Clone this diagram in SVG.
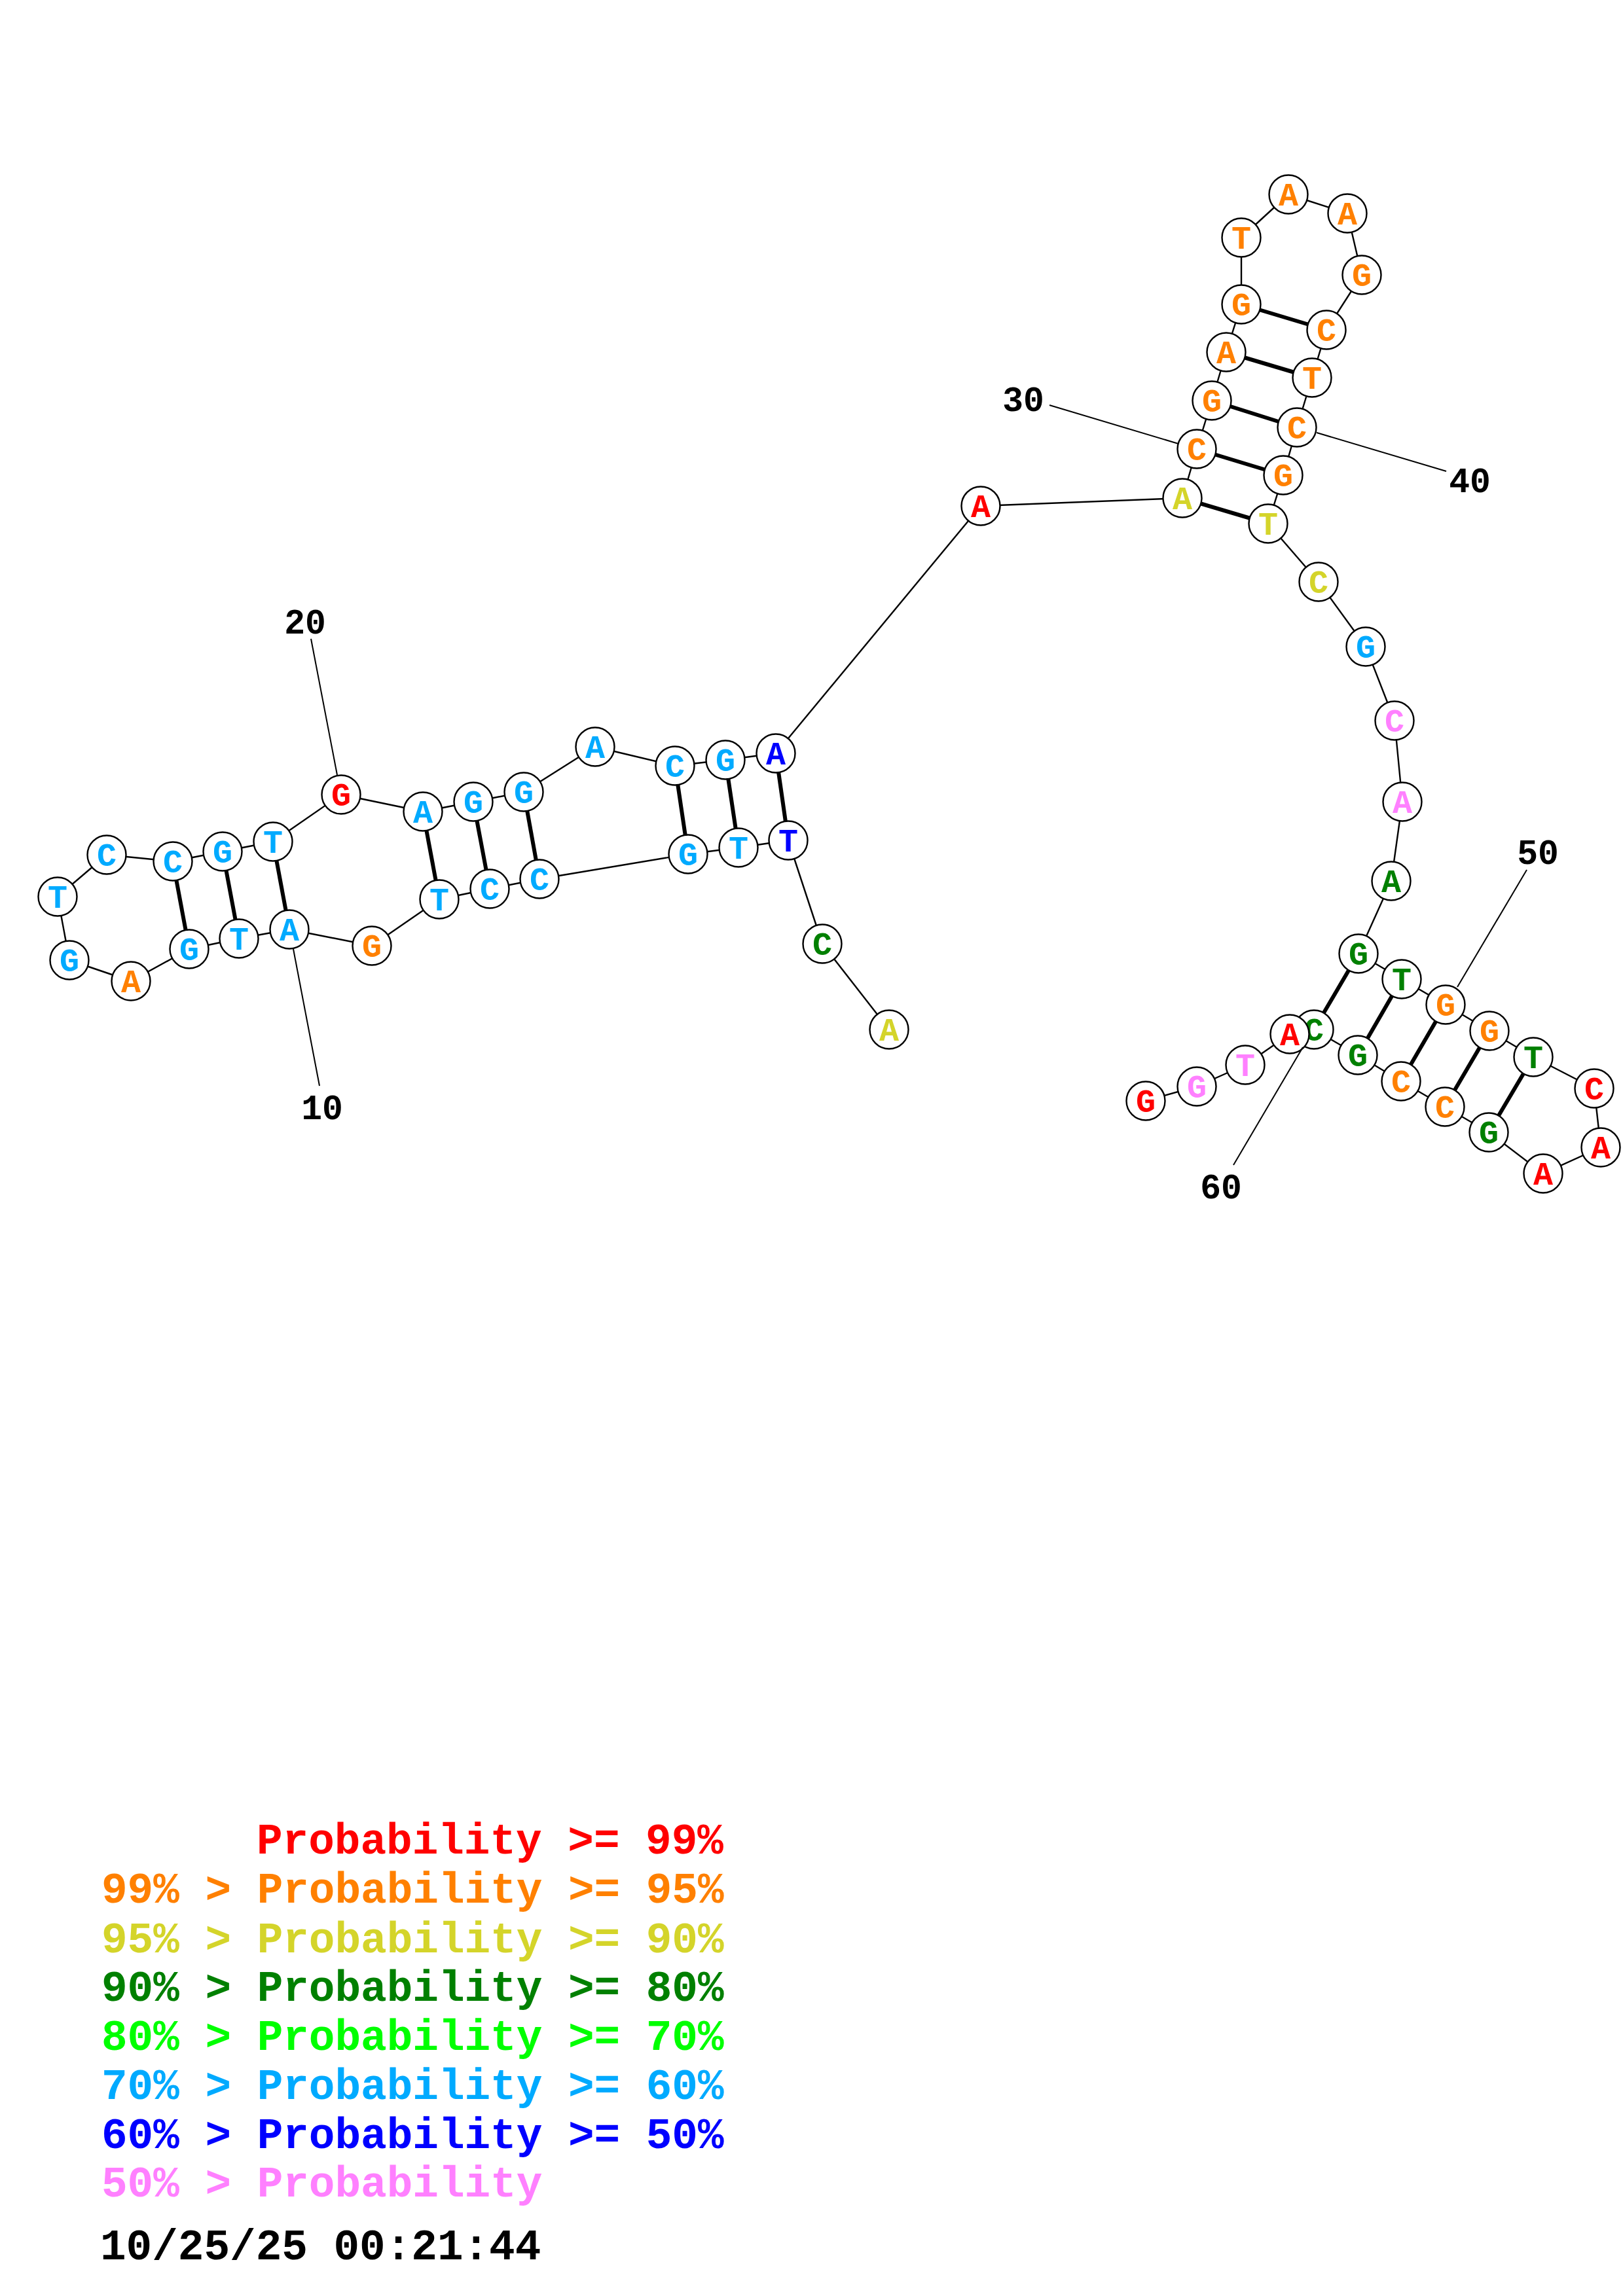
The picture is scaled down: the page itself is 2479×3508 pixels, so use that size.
<svg xmlns="http://www.w3.org/2000/svg" width="2479" height="3508" viewBox="0 0 2479 3508">
<style>
.bb{stroke:#000;stroke-width:2.4;fill:none}
.pr{stroke:#000;stroke-width:6;fill:none}
.lb{stroke:#000;stroke-width:2;fill:none}
.node circle{fill:#fff;stroke:#000;stroke-width:2.4}
.node text{font-family:"Liberation Mono","DejaVu Sans Mono",monospace;font-weight:bold;font-size:50px;text-anchor:middle}
.num{font-family:"Liberation Mono","DejaVu Sans Mono",monospace;font-weight:bold;font-size:53px;text-anchor:middle;fill:#000}
.leg{font-family:"Liberation Mono","DejaVu Sans Mono",monospace;font-weight:bold;font-size:66px}
.r{fill:#FF0000}.o{fill:#FF8000}.y{fill:#D4D42A}.dg{fill:#008000}.g{fill:#00FF00}.lbl{fill:#00AAFF}.b{fill:#0000FF}.p{fill:#FF80FF}.k{fill:#000}
</style>
<rect width="2479" height="3508" fill="#fff"/>
<g id="connectors">
<line class="bb" x1="1358" y1="1573" x2="1256" y2="1442"/>
<line class="bb" x1="1256" y1="1442" x2="1204" y2="1284"/>
<line class="bb" x1="1204" y1="1284" x2="1128" y2="1295"/>
<line class="bb" x1="1128" y1="1295" x2="1051" y2="1305"/>
<line class="bb" x1="1051" y1="1305" x2="824" y2="1343"/>
<line class="bb" x1="824" y1="1343" x2="748" y2="1358"/>
<line class="bb" x1="748" y1="1358" x2="671" y2="1374"/>
<line class="bb" x1="671" y1="1374" x2="568" y2="1445"/>
<line class="bb" x1="568" y1="1445" x2="442" y2="1420"/>
<line class="bb" x1="442" y1="1420" x2="365" y2="1434"/>
<line class="bb" x1="365" y1="1434" x2="289" y2="1450"/>
<line class="bb" x1="289" y1="1450" x2="200" y2="1499"/>
<line class="bb" x1="200" y1="1499" x2="106" y2="1467"/>
<line class="bb" x1="106" y1="1467" x2="88" y2="1370"/>
<line class="bb" x1="88" y1="1370" x2="163" y2="1306"/>
<line class="bb" x1="163" y1="1306" x2="264" y2="1316"/>
<line class="bb" x1="264" y1="1316" x2="340" y2="1301"/>
<line class="bb" x1="340" y1="1301" x2="417" y2="1286"/>
<line class="bb" x1="417" y1="1286" x2="521" y2="1214"/>
<line class="bb" x1="521" y1="1214" x2="646" y2="1240"/>
<line class="bb" x1="646" y1="1240" x2="723" y2="1225"/>
<line class="bb" x1="723" y1="1225" x2="800" y2="1210"/>
<line class="bb" x1="800" y1="1210" x2="909" y2="1141"/>
<line class="bb" x1="909" y1="1141" x2="1031" y2="1170"/>
<line class="bb" x1="1031" y1="1170" x2="1108" y2="1161"/>
<line class="bb" x1="1108" y1="1161" x2="1185" y2="1151"/>
<line class="bb" x1="1185" y1="1151" x2="1498" y2="773"/>
<line class="bb" x1="1498" y1="773" x2="1806" y2="761"/>
<line class="bb" x1="1806" y1="761" x2="1828" y2="686"/>
<line class="bb" x1="1828" y1="686" x2="1851" y2="612"/>
<line class="bb" x1="1851" y1="612" x2="1873" y2="538"/>
<line class="bb" x1="1873" y1="538" x2="1896" y2="465"/>
<line class="bb" x1="1896" y1="465" x2="1896" y2="363"/>
<line class="bb" x1="1896" y1="363" x2="1968" y2="297"/>
<line class="bb" x1="1968" y1="297" x2="2058" y2="326"/>
<line class="bb" x1="2058" y1="326" x2="2080" y2="420"/>
<line class="bb" x1="2080" y1="420" x2="2026" y2="504"/>
<line class="bb" x1="2026" y1="504" x2="2004" y2="577"/>
<line class="bb" x1="2004" y1="577" x2="1981" y2="653"/>
<line class="bb" x1="1981" y1="653" x2="1960" y2="726"/>
<line class="bb" x1="1960" y1="726" x2="1937" y2="800"/>
<line class="bb" x1="1937" y1="800" x2="2014" y2="889"/>
<line class="bb" x1="2014" y1="889" x2="2086" y2="988"/>
<line class="bb" x1="2086" y1="988" x2="2130" y2="1101"/>
<line class="bb" x1="2130" y1="1101" x2="2142" y2="1225"/>
<line class="bb" x1="2142" y1="1225" x2="2125" y2="1346"/>
<line class="bb" x1="2125" y1="1346" x2="2075" y2="1457"/>
<line class="bb" x1="2075" y1="1457" x2="2141" y2="1496"/>
<line class="bb" x1="2141" y1="1496" x2="2208" y2="1535"/>
<line class="bb" x1="2208" y1="1535" x2="2275" y2="1575"/>
<line class="bb" x1="2275" y1="1575" x2="2342" y2="1615"/>
<line class="bb" x1="2342" y1="1615" x2="2435" y2="1663"/>
<line class="bb" x1="2435" y1="1663" x2="2445" y2="1753"/>
<line class="bb" x1="2445" y1="1753" x2="2357" y2="1793"/>
<line class="bb" x1="2357" y1="1793" x2="2274" y2="1730"/>
<line class="bb" x1="2274" y1="1730" x2="2207" y2="1691"/>
<line class="bb" x1="2207" y1="1691" x2="2140" y2="1652"/>
<line class="bb" x1="2140" y1="1652" x2="2074" y2="1612"/>
<line class="bb" x1="2074" y1="1612" x2="2007" y2="1573"/>
<line class="bb" x1="2007" y1="1573" x2="1970" y2="1580"/>
<line class="bb" x1="1970" y1="1580" x2="1902" y2="1627"/>
<line class="bb" x1="1902" y1="1627" x2="1828" y2="1660"/>
<line class="bb" x1="1828" y1="1660" x2="1750" y2="1682"/>
<line class="pr" x1="442" y1="1420" x2="417" y2="1286"/>
<line class="pr" x1="365" y1="1434" x2="340" y2="1301"/>
<line class="pr" x1="289" y1="1450" x2="264" y2="1316"/>
<line class="pr" x1="671" y1="1374" x2="646" y2="1240"/>
<line class="pr" x1="748" y1="1358" x2="723" y2="1225"/>
<line class="pr" x1="824" y1="1343" x2="800" y2="1210"/>
<line class="pr" x1="1051" y1="1305" x2="1031" y2="1170"/>
<line class="pr" x1="1128" y1="1295" x2="1108" y2="1161"/>
<line class="pr" x1="1204" y1="1284" x2="1185" y2="1151"/>
<line class="pr" x1="1806" y1="761" x2="1937" y2="800"/>
<line class="pr" x1="1828" y1="686" x2="1960" y2="726"/>
<line class="pr" x1="1851" y1="612" x2="1981" y2="653"/>
<line class="pr" x1="1873" y1="538" x2="2004" y2="577"/>
<line class="pr" x1="1896" y1="465" x2="2026" y2="504"/>
<line class="pr" x1="2075" y1="1457" x2="2007" y2="1573"/>
<line class="pr" x1="2141" y1="1496" x2="2074" y2="1612"/>
<line class="pr" x1="2208" y1="1535" x2="2140" y2="1652"/>
<line class="pr" x1="2275" y1="1575" x2="2207" y2="1691"/>
<line class="pr" x1="2342" y1="1615" x2="2274" y2="1730"/>
</g>
<g id="nodes">
<g id="n1" class="node"><circle cx="1358" cy="1573" r="29.5"/><text x="1358" y="1590" class="y">A</text></g>
<g id="n2" class="node"><circle cx="1256" cy="1442" r="29.5"/><text x="1256" y="1459" class="dg">C</text></g>
<g id="n3" class="node"><circle cx="1204" cy="1284" r="29.5"/><text x="1204" y="1301" class="b">T</text></g>
<g id="n4" class="node"><circle cx="1128" cy="1295" r="29.5"/><text x="1128" y="1312" class="lbl">T</text></g>
<g id="n5" class="node"><circle cx="1051" cy="1305" r="29.5"/><text x="1051" y="1322" class="lbl">G</text></g>
<g id="n6" class="node"><circle cx="824" cy="1343" r="29.5"/><text x="824" y="1360" class="lbl">C</text></g>
<g id="n7" class="node"><circle cx="748" cy="1358" r="29.5"/><text x="748" y="1375" class="lbl">C</text></g>
<g id="n8" class="node"><circle cx="671" cy="1374" r="29.5"/><text x="671" y="1391" class="lbl">T</text></g>
<g id="n9" class="node"><circle cx="568" cy="1445" r="29.5"/><text x="568" y="1462" class="o">G</text></g>
<g id="n10" class="node"><circle cx="442" cy="1420" r="29.5"/><text x="442" y="1437" class="lbl">A</text></g>
<g id="n11" class="node"><circle cx="365" cy="1434" r="29.5"/><text x="365" y="1451" class="lbl">T</text></g>
<g id="n12" class="node"><circle cx="289" cy="1450" r="29.5"/><text x="289" y="1467" class="lbl">G</text></g>
<g id="n13" class="node"><circle cx="200" cy="1499" r="29.5"/><text x="200" y="1516" class="o">A</text></g>
<g id="n14" class="node"><circle cx="106" cy="1467" r="29.5"/><text x="106" y="1484" class="lbl">G</text></g>
<g id="n15" class="node"><circle cx="88" cy="1370" r="29.5"/><text x="88" y="1387" class="lbl">T</text></g>
<g id="n16" class="node"><circle cx="163" cy="1306" r="29.5"/><text x="163" y="1323" class="lbl">C</text></g>
<g id="n17" class="node"><circle cx="264" cy="1316" r="29.5"/><text x="264" y="1333" class="lbl">C</text></g>
<g id="n18" class="node"><circle cx="340" cy="1301" r="29.5"/><text x="340" y="1318" class="lbl">G</text></g>
<g id="n19" class="node"><circle cx="417" cy="1286" r="29.5"/><text x="417" y="1303" class="lbl">T</text></g>
<g id="n20" class="node"><circle cx="521" cy="1214" r="29.5"/><text x="521" y="1231" class="r">G</text></g>
<g id="n21" class="node"><circle cx="646" cy="1240" r="29.5"/><text x="646" y="1257" class="lbl">A</text></g>
<g id="n22" class="node"><circle cx="723" cy="1225" r="29.5"/><text x="723" y="1242" class="lbl">G</text></g>
<g id="n23" class="node"><circle cx="800" cy="1210" r="29.5"/><text x="800" y="1227" class="lbl">G</text></g>
<g id="n24" class="node"><circle cx="909" cy="1141" r="29.5"/><text x="909" y="1158" class="lbl">A</text></g>
<g id="n25" class="node"><circle cx="1031" cy="1170" r="29.5"/><text x="1031" y="1187" class="lbl">C</text></g>
<g id="n26" class="node"><circle cx="1108" cy="1161" r="29.5"/><text x="1108" y="1178" class="lbl">G</text></g>
<g id="n27" class="node"><circle cx="1185" cy="1151" r="29.5"/><text x="1185" y="1168" class="b">A</text></g>
<g id="n28" class="node"><circle cx="1498" cy="773" r="29.5"/><text x="1498" y="790" class="r">A</text></g>
<g id="n29" class="node"><circle cx="1806" cy="761" r="29.5"/><text x="1806" y="778" class="y">A</text></g>
<g id="n30" class="node"><circle cx="1828" cy="686" r="29.5"/><text x="1828" y="703" class="o">C</text></g>
<g id="n31" class="node"><circle cx="1851" cy="612" r="29.5"/><text x="1851" y="629" class="o">G</text></g>
<g id="n32" class="node"><circle cx="1873" cy="538" r="29.5"/><text x="1873" y="555" class="o">A</text></g>
<g id="n33" class="node"><circle cx="1896" cy="465" r="29.5"/><text x="1896" y="482" class="o">G</text></g>
<g id="n34" class="node"><circle cx="1896" cy="363" r="29.5"/><text x="1896" y="380" class="o">T</text></g>
<g id="n35" class="node"><circle cx="1968" cy="297" r="29.5"/><text x="1968" y="314" class="o">A</text></g>
<g id="n36" class="node"><circle cx="2058" cy="326" r="29.5"/><text x="2058" y="343" class="o">A</text></g>
<g id="n37" class="node"><circle cx="2080" cy="420" r="29.5"/><text x="2080" y="437" class="o">G</text></g>
<g id="n38" class="node"><circle cx="2026" cy="504" r="29.5"/><text x="2026" y="521" class="o">C</text></g>
<g id="n39" class="node"><circle cx="2004" cy="577" r="29.5"/><text x="2004" y="594" class="o">T</text></g>
<g id="n40" class="node"><circle cx="1981" cy="653" r="29.5"/><text x="1981" y="670" class="o">C</text></g>
<g id="n41" class="node"><circle cx="1960" cy="726" r="29.5"/><text x="1960" y="743" class="o">G</text></g>
<g id="n42" class="node"><circle cx="1937" cy="800" r="29.5"/><text x="1937" y="817" class="y">T</text></g>
<g id="n43" class="node"><circle cx="2014" cy="889" r="29.5"/><text x="2014" y="906" class="y">C</text></g>
<g id="n44" class="node"><circle cx="2086" cy="988" r="29.5"/><text x="2086" y="1005" class="lbl">G</text></g>
<g id="n45" class="node"><circle cx="2130" cy="1101" r="29.5"/><text x="2130" y="1118" class="p">C</text></g>
<g id="n46" class="node"><circle cx="2142" cy="1225" r="29.5"/><text x="2142" y="1242" class="p">A</text></g>
<g id="n47" class="node"><circle cx="2125" cy="1346" r="29.5"/><text x="2125" y="1363" class="dg">A</text></g>
<g id="n48" class="node"><circle cx="2075" cy="1457" r="29.5"/><text x="2075" y="1474" class="dg">G</text></g>
<g id="n49" class="node"><circle cx="2141" cy="1496" r="29.5"/><text x="2141" y="1513" class="dg">T</text></g>
<g id="n50" class="node"><circle cx="2208" cy="1535" r="29.5"/><text x="2208" y="1552" class="o">G</text></g>
<g id="n51" class="node"><circle cx="2275" cy="1575" r="29.5"/><text x="2275" y="1592" class="o">G</text></g>
<g id="n52" class="node"><circle cx="2342" cy="1615" r="29.5"/><text x="2342" y="1632" class="dg">T</text></g>
<g id="n53" class="node"><circle cx="2435" cy="1663" r="29.5"/><text x="2435" y="1680" class="r">C</text></g>
<g id="n54" class="node"><circle cx="2445" cy="1753" r="29.5"/><text x="2445" y="1770" class="r">A</text></g>
<g id="n55" class="node"><circle cx="2357" cy="1793" r="29.5"/><text x="2357" y="1810" class="r">A</text></g>
<g id="n56" class="node"><circle cx="2274" cy="1730" r="29.5"/><text x="2274" y="1747" class="dg">G</text></g>
<g id="n57" class="node"><circle cx="2207" cy="1691" r="29.5"/><text x="2207" y="1708" class="o">C</text></g>
<g id="n58" class="node"><circle cx="2140" cy="1652" r="29.5"/><text x="2140" y="1669" class="o">C</text></g>
<g id="n59" class="node"><circle cx="2074" cy="1612" r="29.5"/><text x="2074" y="1629" class="dg">G</text></g>
<g id="n60" class="node"><circle cx="2007" cy="1573" r="29.5"/><text x="2007" y="1590" class="dg">C</text></g>
<g id="n61" class="node"><circle cx="1970" cy="1580" r="29.5"/><text x="1970" y="1597" class="r">A</text></g>
<g id="n62" class="node"><circle cx="1902" cy="1627" r="29.5"/><text x="1902" y="1644" class="p">T</text></g>
<g id="n63" class="node"><circle cx="1828" cy="1660" r="29.5"/><text x="1828" y="1677" class="p">G</text></g>
<g id="n64" class="node"><circle cx="1750" cy="1682" r="29.5"/><text x="1750" y="1699" class="r">G</text></g>
</g>
<g id="labels">
<line class="lb" x1="475" y1="976" x2="515" y2="1184"/>
<text class="num" x="466" y="968">20</text>
<line class="lb" x1="448" y1="1450" x2="488" y2="1659"/>
<text class="num" x="492" y="1710">10</text>
<line class="lb" x1="1603" y1="619" x2="1800" y2="678"/>
<text class="num" x="1563" y="628">30</text>
<line class="lb" x1="2011" y1="661" x2="2209" y2="720"/>
<text class="num" x="2245" y="752">40</text>
<line class="lb" x1="2332" y1="1329" x2="2226" y2="1508"/>
<text class="num" x="2349" y="1320">50</text>
<line class="lb" x1="1884" y1="1780" x2="1990" y2="1600"/>
<text class="num" x="1865" y="1831">60</text>
</g>
<g id="legend">
<text class="leg r" x="392" y="2832">Probability &gt;= 99%</text>
<text class="leg o" x="155" y="2907">99% &gt; Probability &gt;= 95%</text>
<text class="leg y" x="155" y="2983">95% &gt; Probability &gt;= 90%</text>
<text class="leg dg" x="155" y="3057">90% &gt; Probability &gt;= 80%</text>
<text class="leg g" x="155" y="3132">80% &gt; Probability &gt;= 70%</text>
<text class="leg lbl" x="155" y="3207">70% &gt; Probability &gt;= 60%</text>
<text class="leg b" x="155" y="3282">60% &gt; Probability &gt;= 50%</text>
<text class="leg p" x="155" y="3356">50% &gt; Probability</text>
<text class="leg k" x="153" y="3452">10/25/25 00:21:44</text>
</g>
</svg>
